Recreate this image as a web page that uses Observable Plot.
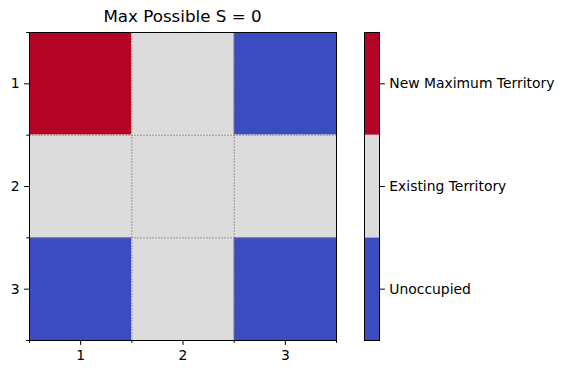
<!DOCTYPE html>
<html><head><meta charset="utf-8">
<script src="https://cdn.jsdelivr.net/npm/d3@7"></script>
<script src="https://cdn.jsdelivr.net/npm/@observablehq/plot@0.6"></script>
<style>
body{margin:0;background:#fff;font-family:"DejaVu Sans",sans-serif;}
#wrap{position:relative;width:564px;height:374px;overflow:hidden;}
#title{position:absolute;left:29px;width:307px;top:6px;text-align:center;font-size:16.7px;line-height:20px;color:#000;}
#main{position:absolute;left:0;top:0;}
#cbar{position:absolute;left:350px;top:0;}
</style></head><body>
<div id="wrap"><div id="title">Max Possible S = 0</div><div id="main"></div><div id="cbar"></div></div>
<script>
const rowLabels = [1, 2, 3];
const colLabels = [1, 2, 3];
const states = [
  [2, 1, 0],
  [1, 1, 1],
  [0, 1, 0]
];
const categoryCodes = [0, 1, 2];
const categories = ["Unoccupied", "Existing Territory", "New Maximum Territory"];
const palette = ["#3b4cc0", "#dddcdc", "#b40426"];

const cells = [];
rowLabels.forEach((r, i) => colLabels.forEach((c, j) => cells.push({row: r, col: c, state: states[i][j]})));
const xBounds = [...colLabels.map(c => c - 0.5), colLabels[colLabels.length - 1] + 0.5];
const yBounds = [...rowLabels.map(r => r - 0.5), rowLabels[rowLabels.length - 1] + 0.5];

const font = {fontFamily: "DejaVu Sans", fontSize: "13.9px", color: "#000", background: "transparent"};
const colorScale = {type: "ordinal", domain: categoryCodes, range: palette};

const main = Plot.plot({
  width: 350, height: 374,
  marginLeft: 29, marginRight: 14, marginTop: 32, marginBottom: 34,
  style: font,
  x: {type: "linear", domain: [xBounds[0], xBounds[xBounds.length - 1]]},
  y: {type: "linear", domain: [yBounds[0], yBounds[yBounds.length - 1]], reverse: true},
  color: colorScale,
  marks: [
    Plot.rect(cells, {x1: d => d.col - 0.5, x2: d => d.col + 0.5, y1: d => d.row - 0.5, y2: d => d.row + 0.5, fill: "state"}),
    Plot.ruleX(xBounds, {stroke: "#808080", strokeWidth: 0.8, strokeDasharray: "2,1"}),
    Plot.ruleY(yBounds, {stroke: "#808080", strokeWidth: 0.8, strokeDasharray: "2,1"}),
    Plot.frame({stroke: "#000", strokeWidth: 1}),
    Plot.axisX(colLabels, {tickSize: 4.9, tickPadding: 4.9, tickFormat: d => String(d), label: null}),
    Plot.axisX(xBounds, {tickSize: 2.8, tickFormat: () => "", label: null}),
    Plot.axisY(rowLabels, {tickSize: 4.9, tickPadding: 4.9, tickFormat: d => String(d), label: null}),
    Plot.axisY(yBounds, {tickSize: 2.8, tickFormat: () => "", label: null})
  ]
});
document.getElementById("main").appendChild(main);

const cbar = Plot.plot({
  width: 214, height: 374,
  marginLeft: 14, marginRight: 185, marginTop: 32, marginBottom: 34,
  style: font,
  x: {domain: [0, 1], axis: null},
  y: {type: "linear", domain: [categoryCodes[0] - 0.5, categoryCodes[categoryCodes.length - 1] + 0.5]},
  color: colorScale,
  marks: [
    Plot.rect(categoryCodes, {x1: 0, x2: 1, y1: d => d - 0.5, y2: d => d + 0.5, fill: d => d}),
    Plot.frame({stroke: "#000", strokeWidth: 1}),
    Plot.axisY(categoryCodes, {anchor: "right", tickSize: 4.9, tickPadding: 4.9, tickFormat: d => categories[d], label: null})
  ]
});
document.getElementById("cbar").appendChild(cbar);
</script>
</body></html>
